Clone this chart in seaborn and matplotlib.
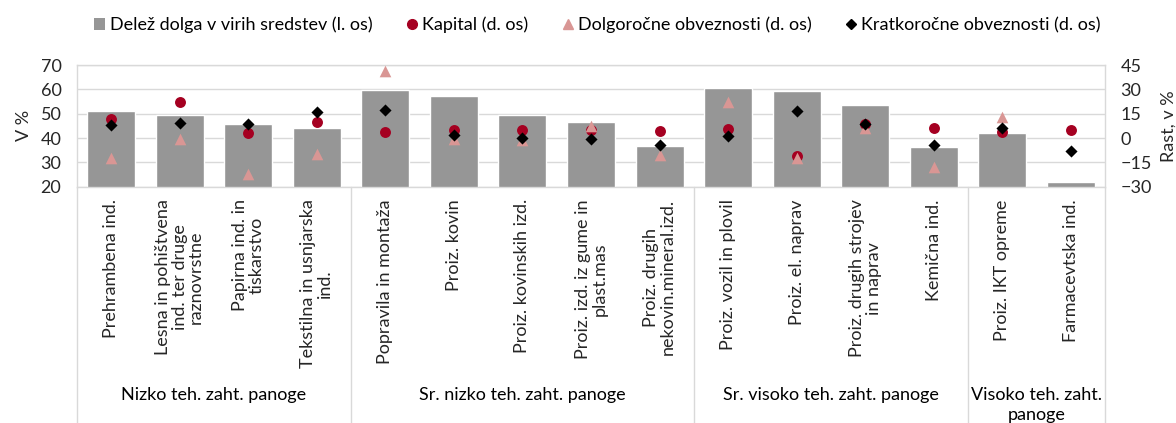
import numpy as np
import pandas as pd
import matplotlib
matplotlib.use("Agg")
import matplotlib.pyplot as plt
import matplotlib.transforms as mtransforms
from matplotlib.patches import Patch
from matplotlib.lines import Line2D
import seaborn as sns

# --- data ---
categories = [
    "Prehrambena ind.",
    "Lesna in pohištvena\nind. ter druge\nraznovrstne",
    "Papirna ind. in\ntiskarstvo",
    "Tekstilna in usnjarska\nind.",
    "Popravila in montaža",
    "Proiz. kovin",
    "Proiz. kovinskih izd.",
    "Proiz. izd. iz gume in\nplast.mas",
    "Proiz. drugih\nnekovin.mineral.izd.",
    "Proiz. vozil in plovil",
    "Proiz. el. naprav",
    "Proiz. drugih strojev\nin naprav",
    "Kemična ind.",
    "Proiz. IKT opreme",
    "Farmacevtska ind.",
]
groups = ["Nizko teh. zaht. panoge", "Sr. nizko teh. zaht. panoge",
          "Sr. visoko teh. zaht. panoge", "Visoko teh. zaht.\npanoge"]
group_sizes = [4, 5, 4, 2]

delez_dolga = [51.2, 49.4, 45.8, 44.0, 59.8, 57.2, 49.3, 46.4, 36.8,
               60.6, 59.5, 53.7, 36.4, 42.2, 21.9]
kapital = [12.0, 22.0, 2.8, 10.1, 4.0, 5.2, 4.8, 5.2, 4.2,
           5.8, -11.0, 8.4, 6.0, 3.5, 5.0]
dolgorocne = [-12.3, -0.9, -22.2, -9.7, 41.5, -0.5, -1.3, 7.2, -10.5,
              22.1, -12.2, 6.4, -17.7, 12.8, np.nan]
kratkorocne = [8.0, 9.4, 8.6, 16.2, 17.2, 1.7, 0.3, -0.9, -4.2,
               1.3, 16.4, 8.4, -4.2, 5.9, -7.8]

legend_labels = ["Delež dolga v virih sredstev (l. os)", "Kapital (d. os)",
                 "Dolgoročne obveznosti (d. os)", "Kratkoročne obveznosti (d. os)"]

BAR_COLOR = "#969696"
KAP_COLOR = "#A50021"
DOLG_COLOR = "#D99694"
KRAT_COLOR = "#000000"
GRID_COLOR = "#D9D9D9"

sns.set_style("white")
plt.rcParams["font.family"] = ["Lato", "DejaVu Sans"]
plt.rcParams["font.size"] = 13
plt.rcParams["text.color"] = "#000000"

fig = plt.figure(figsize=(11.76, 4.23), dpi=100)
ax = fig.add_axes([0.0652, 0.5586, 0.8747, 0.2877])

df = pd.DataFrame({"kategorija": categories, "delez": delez_dolga})
sns.barplot(data=df, x="kategorija", y="delez", color=BAR_COLOR, saturation=1,
            width=0.7, errorbar=None, ax=ax, zorder=2)

ax.set_ylim(20, 70)
ax.set_yticks(np.arange(20, 71, 10))
ax.set_xlim(-0.5, len(categories) - 0.5)
ax.yaxis.grid(True, color=GRID_COLOR, linewidth=1)
ax.set_axisbelow(True)
ax.set_xlabel("")
ax.set_ylabel("V %", labelpad=6)
ax.tick_params(axis="y", length=0, pad=11)
ax.tick_params(axis="x", length=0, pad=9)
plt.setp(ax.get_xticklabels(), rotation=90, ha="center", va="top",
         multialignment="center", linespacing=1.05)
for sp in ax.spines.values():
    sp.set_color(GRID_COLOR)
    sp.set_linewidth(1)

ax2 = ax.twinx()
pos = np.arange(len(categories))
sns.scatterplot(x=pos, y=kapital, marker="o", color=KAP_COLOR, s=62,
                linewidth=0, ax=ax2, zorder=3)
sns.scatterplot(x=pos, y=dolgorocne, marker="^", color=DOLG_COLOR, s=70,
                linewidth=0, ax=ax2, zorder=4)
sns.scatterplot(x=pos, y=kratkorocne, marker="D", color=KRAT_COLOR, s=38,
                linewidth=0, ax=ax2, zorder=5)
ax2.set_ylim(-30, 45)
ax2.set_yticks(np.arange(-30, 46, 15))
ax2.set_ylabel("Rast, v %", labelpad=6)
ax2.tick_params(axis="y", length=0, pad=11)
ax2.set_xlim(-0.5, len(categories) - 0.5)
for sp in ax2.spines.values():
    sp.set_visible(False)

# category group separators and labels below the axis
trans = mtransforms.blended_transform_factory(ax.transData, ax.transAxes)
trans_fig = mtransforms.blended_transform_factory(ax.transData, fig.transFigure)
edges = np.concatenate([[0], np.cumsum(group_sizes)]) - 0.5
for e in edges:
    ax.plot([e, e], [0, -2.0], transform=trans, color=GRID_COLOR,
            linewidth=1, clip_on=False)
for g, lo, hi in zip(groups, edges[:-1], edges[1:]):
    ax.text((lo + hi) / 2, 1 - 387 / 423, g, transform=trans_fig,
            ha="center", va="top", linespacing=1.3)

handles = [
    Patch(facecolor=BAR_COLOR, edgecolor="none"),
    Line2D([], [], marker="o", color=KAP_COLOR, linestyle="none", markersize=7),
    Line2D([], [], marker="^", color=DOLG_COLOR, linestyle="none", markersize=7),
    Line2D([], [], marker="D", color=KRAT_COLOR, linestyle="none", markersize=5),
]
fig.legend(handles, legend_labels, loc="center", ncol=4,
           bbox_to_anchor=(0.508, 1 - 25 / 423), frameon=False,
           handlelength=0.6, handleheight=0.6, handletextpad=0.25,
           columnspacing=1.9, borderaxespad=0)

fig.savefig("out.png", dpi=100)
